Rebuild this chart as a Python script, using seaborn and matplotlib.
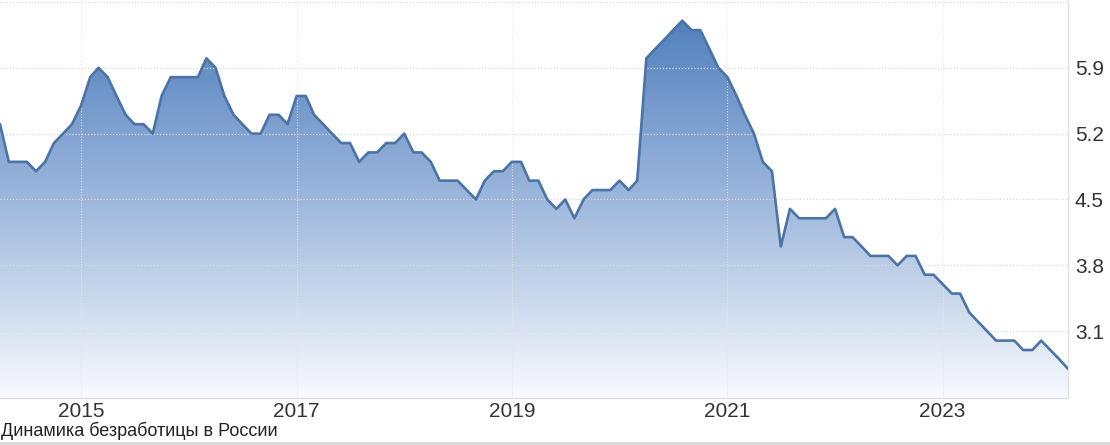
import numpy as np
import pandas as pd
import seaborn as sns
import matplotlib.pyplot as plt
import matplotlib.dates as mdates
from matplotlib.colors import LinearSegmentedColormap
from matplotlib.patches import Rectangle

# monthly unemployment rate, %, April 2014 .. March 2024
start_month = "2014-04"
rate = [
    5.3, 4.9, 4.9, 4.9, 4.8, 4.9, 5.1, 5.2, 5.3,                    # 2014
    5.5, 5.8, 5.9, 5.8, 5.6, 5.4, 5.3, 5.3, 5.2, 5.6, 5.8, 5.8,      # 2015
    5.8, 5.8, 6.0, 5.9, 5.6, 5.4, 5.3, 5.2, 5.2, 5.4, 5.4, 5.3,      # 2016
    5.6, 5.6, 5.4, 5.3, 5.2, 5.1, 5.1, 4.9, 5.0, 5.0, 5.1, 5.1,      # 2017
    5.2, 5.0, 5.0, 4.9, 4.7, 4.7, 4.7, 4.6, 4.5, 4.7, 4.8, 4.8,      # 2018
    4.9, 4.9, 4.7, 4.7, 4.5, 4.4, 4.5, 4.3, 4.5, 4.6, 4.6, 4.6,      # 2019
    4.7, 4.6, 4.7, 6.0, 6.1, 6.2, 6.3, 6.4, 6.3, 6.3, 6.1, 5.9,      # 2020
    5.8, 5.6, 5.4, 5.2, 4.9, 4.8, 4.0, 4.4, 4.3, 4.3, 4.3, 4.3,      # 2021
    4.4, 4.1, 4.1, 4.0, 3.9, 3.9, 3.9, 3.8, 3.9, 3.9, 3.7, 3.7,      # 2022
    3.6, 3.5, 3.5, 3.3, 3.2, 3.1, 3.0, 3.0, 3.0, 2.9, 2.9, 3.0,      # 2023
    2.9, 2.8, 2.7,                                                   # 2024
]
year_ticks = [2015, 2017, 2019, 2021, 2023]
y_ticks = [3.1, 3.8, 4.5, 5.2, 5.9]
caption = "Динамика безработицы в России"

dates = pd.date_range(start_month, periods=len(rate), freq="MS")
df = pd.DataFrame({"date": dates, "rate": rate})

sns.set_style("white")
plt.rcParams["font.family"] = ["Liberation Sans", "DejaVu Sans"]

W, H = 1110, 445
fig = plt.figure(figsize=(W / 100, H / 100), dpi=100)
ax = fig.add_axes([0, 1 - 398 / H, 1068 / W, 398 / H])

y_lo, y_hi = 2.39, 6.62
x_lo, x_hi = mdates.date2num(dates[0]), mdates.date2num(dates[-1])

# gradient area under the line
cmap = LinearSegmentedColormap.from_list("fade", ["#f8fafd", "#9db7dc", "#4a7aba"])
grad = np.linspace(0, 1, 256).reshape(-1, 1)
im = ax.imshow(grad, extent=[x_lo, x_hi, y_lo, y_hi], origin="lower",
               aspect="auto", cmap=cmap, zorder=0, interpolation="bicubic")
poly = ax.fill_between(df["date"], df["rate"], y_lo, color="none", linewidth=0)
im.set_clip_path(poly.get_paths()[0], transform=ax.transData)

sns.lineplot(data=df, x="date", y="rate", ax=ax, color="#4a73a8",
             linewidth=1.9, zorder=3)

ax.set_xlim(x_lo, x_hi)
ax.set_ylim(y_lo, y_hi)

ax.yaxis.tick_right()
ax.set_yticks(y_ticks)
ax.set_yticklabels([f"{v:.1f}" for v in y_ticks])
ax.set_xticks(pd.to_datetime([f"{y}-01-01" for y in year_ticks]))
ax.set_xticklabels([str(y) for y in year_ticks])
ax.tick_params(length=0, labelsize=15, labelcolor="#333333")
ax.tick_params(axis="y", pad=5)
ax.tick_params(axis="x", pad=3)
ax.set_xlabel("")
ax.set_ylabel("")

ax.xaxis.grid(True, color="#e6e6e6", linestyle=(0, (1, 1.5)), linewidth=0.8, alpha=0.8)
ax.yaxis.grid(True, color="#d9d9d9", linestyle=(0, (1, 1.5)), linewidth=0.9)
ax.axhline(6.6, color="#d9d9d9", linestyle=(0, (1, 1.5)), linewidth=0.9, zorder=0.5)

for side in ["top", "left"]:
    ax.spines[side].set_visible(False)
for side in ["right", "bottom"]:
    ax.spines[side].set_color("#e0e0e0")
    ax.spines[side].set_linewidth(1)

fig.text(0.001, 1 - 431 / H, caption, fontsize=13, color="#222222",
         ha="left", va="center")
fig.add_artist(Rectangle((0, 0), 1, 3 / H, transform=fig.transFigure,
                         color="#d9d9d9", linewidth=0))

fig.savefig("out.png", dpi=100)
